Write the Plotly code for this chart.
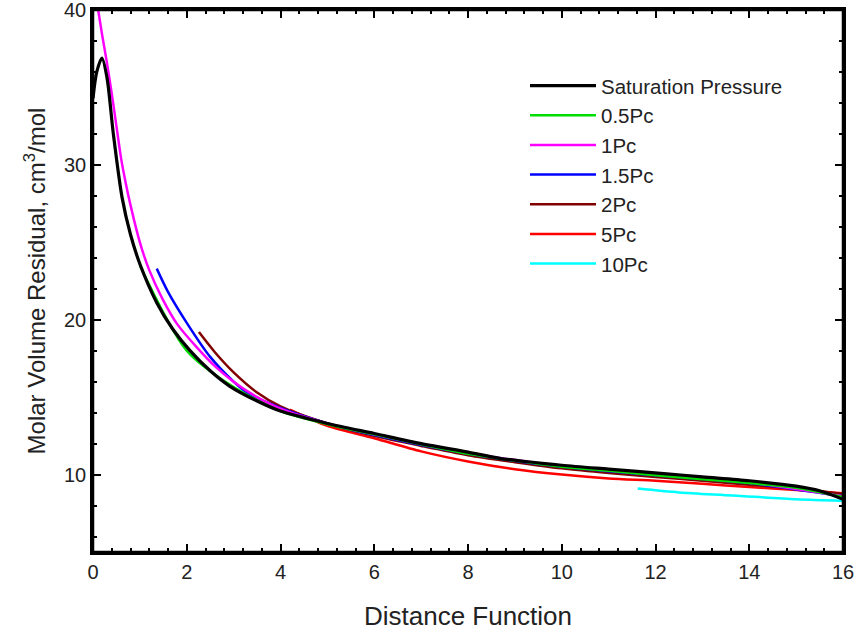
import plotly.graph_objects as go

# Saturation Pressure
sat_x = [0.0, 0.08, 0.19, 0.3, 0.43, 0.62, 0.8, 1.0, 1.36, 1.7, 2.07, 2.5, 2.92, 3.5, 4.0, 5.0, 6.0, 7.0, 8.0, 8.68, 10.0, 11.0, 12.24, 13.0, 14.0, 15.0, 15.5, 16.0]
sat_y = [34.3, 36.0, 36.9, 35.6, 32.1, 27.9, 25.5, 23.6, 21.1, 19.4, 18.0, 16.7, 15.7, 14.75, 14.1, 13.3, 12.65, 12.0, 11.45, 11.05, 10.6, 10.35, 10.05, 9.85, 9.6, 9.25, 8.95, 8.4]

# 0.5Pc
p05_x = [1.0, 2.0, 3.0, 4.0, 5.0, 6.0, 7.0, 8.0, 9.0, 10.0, 11.0, 12.0, 13.0, 14.0, 15.0, 16.0]
p05_y = [23.5, 18.0, 15.65, 14.1, 13.25, 12.6, 11.95, 11.35, 10.9, 10.5, 10.25, 9.95, 9.7, 9.45, 9.15, 8.55]

# 1Pc
p1_x = [0.11, 0.2, 0.28, 0.4, 0.5, 0.6, 0.7, 0.8, 1.0, 1.2, 1.49, 1.8, 2.22, 2.6, 3.0, 3.5, 4.0, 5.0, 6.0, 8.0, 10.0, 12.0, 14.0, 16.0]
p1_y = [40.0, 38.3, 36.9, 34.6, 32.5, 30.4, 28.8, 27.4, 25.0, 23.2, 21.3, 19.7, 18.2, 17.0, 16.0, 15.0, 14.25, 13.3, 12.6, 11.4, 10.55, 10.0, 9.5, 8.6]

# 1.5Pc
p15_x = [1.36, 1.6, 2.0, 2.5, 3.0, 3.28, 4.0, 5.0, 6.0, 8.0, 10.0, 12.0, 14.0, 16.0]
p15_y = [23.3, 21.8, 19.8, 17.6, 16.0, 15.3, 14.3, 13.3, 12.55, 11.35, 10.5, 9.95, 9.45, 8.6]

# 2Pc
p2_x = [2.26, 2.6, 3.0, 3.5, 4.0, 5.0, 6.0, 7.0, 8.0, 9.0, 10.0, 11.0, 12.0, 13.0, 14.0, 15.0, 16.0]
p2_y = [19.2, 17.9, 16.6, 15.3, 14.4, 13.3, 12.5, 11.85, 11.25, 10.8, 10.4, 10.1, 9.85, 9.6, 9.35, 9.1, 8.75]

# 5Pc
p5_x = [4.2, 5.0, 6.0, 7.0, 8.0, 9.0, 10.0, 11.0, 12.0, 13.0, 14.0, 15.0, 16.0]
p5_y = [14.2, 13.15, 12.35, 11.5, 10.85, 10.35, 10.0, 9.75, 9.6, 9.4, 9.2, 9.0, 8.8]

# 10Pc
p10_x = [11.62, 12.5, 13.65, 15.0, 16.0]
p10_y = [9.1, 8.85, 8.65, 8.4, 8.3]

x_ticks = [0, 2, 4, 6, 8, 10, 12, 14, 16]
y_ticks = [10, 20, 30, 40]

series = [
    ("Saturation Pressure", sat_x, sat_y, "#000000", 3.2),
    ("0.5Pc", p05_x, p05_y, "#00dd00", 2.5),
    ("1Pc", p1_x, p1_y, "#ff00ff", 2.5),
    ("1.5Pc", p15_x, p15_y, "#0000ff", 2.5),
    ("2Pc", p2_x, p2_y, "#800000", 2.5),
    ("5Pc", p5_x, p5_y, "#ff0000", 2.5),
    ("10Pc", p10_x, p10_y, "#00ffff", 2.5),
]

fig = go.Figure()
order = [5, 4, 3, 6, 2, 1, 0]
traces = {}
for i, (name, xs, ys, col, w) in enumerate(series):
    traces[i] = go.Scatter(x=xs, y=ys, mode="lines", name=name,
                           line=dict(color=col, width=w, shape="spline", smoothing=0.8),
                           legendrank=i + 1)
for i in order:
    fig.add_trace(traces[i])

# empty helper trace so the top (mirrored) tick axis is rendered
fig.add_trace(go.Scatter(x=[None], y=[None], xaxis="x2", yaxis="y", mode="lines",
                         showlegend=False, hoverinfo="skip"))

font = "Liberation Sans, Arial, sans-serif"
fig.update_layout(
    width=857, height=635,
    margin=dict(l=93, r=14, t=10, b=83),
    plot_bgcolor="white", paper_bgcolor="white",
    font=dict(family=font, size=20, color="#222"),
    showlegend=True,
    legend=dict(x=0.576, y=0.897, xanchor="left", yanchor="top",
                font=dict(family=font, size=20.5, color="#222"),
                bgcolor="rgba(0,0,0,0)", tracegroupgap=0, itemwidth=66),
    xaxis=dict(range=[0, 16], tickvals=x_ticks, automargin=False,
               ticks="inside", ticklen=8, tickwidth=1.5, tickcolor="black",
               minor=dict(dtick=0.4, tick0=0, ticks="inside", ticklen=4, tickcolor="black"),
               showline=True, linecolor="black", linewidth=2.5, mirror="ticks",
               showgrid=False, zeroline=False, ticklabeloverflow="allow",
               title=dict(text="Distance Function", font=dict(size=26), standoff=26),
               tickfont=dict(size=20)),
    xaxis2=dict(range=[0, 16], tickvals=x_ticks, automargin=False, overlaying="x",
                side="top", anchor="y", showticklabels=False,
                ticks="inside", ticklen=8, tickwidth=1.5, tickcolor="black",
                minor=dict(dtick=0.4, tick0=0, ticks="inside", ticklen=4, tickcolor="black"),
                showline=True, linecolor="black", linewidth=2.5,
                showgrid=False, zeroline=False),
    yaxis=dict(range=[5, 40], tickvals=y_ticks, automargin=False,
               ticks="inside", ticklen=8, tickwidth=1.5, tickcolor="black",
               minor=dict(dtick=2, tick0=0, ticks="inside", ticklen=4, tickcolor="black"),
               showline=True, linecolor="black", linewidth=2.5, mirror="ticks",
               showgrid=False, zeroline=False, ticklabeloverflow="allow",
               title=dict(text="Molar Volume Residual, cm<sup>3</sup>/mol", font=dict(size=24), standoff=12),
               tickfont=dict(size=20)),
)
fig.add_shape(type="rect", xref="paper", yref="paper", x0=0, x1=1, y0=0, y1=1,
              line=dict(color="black", width=2.5), fillcolor="rgba(0,0,0,0)", layer="above")

fig.write_html("out.html", config={"displayModeBar": False},
               post_script="document.body.style.margin='0';")
